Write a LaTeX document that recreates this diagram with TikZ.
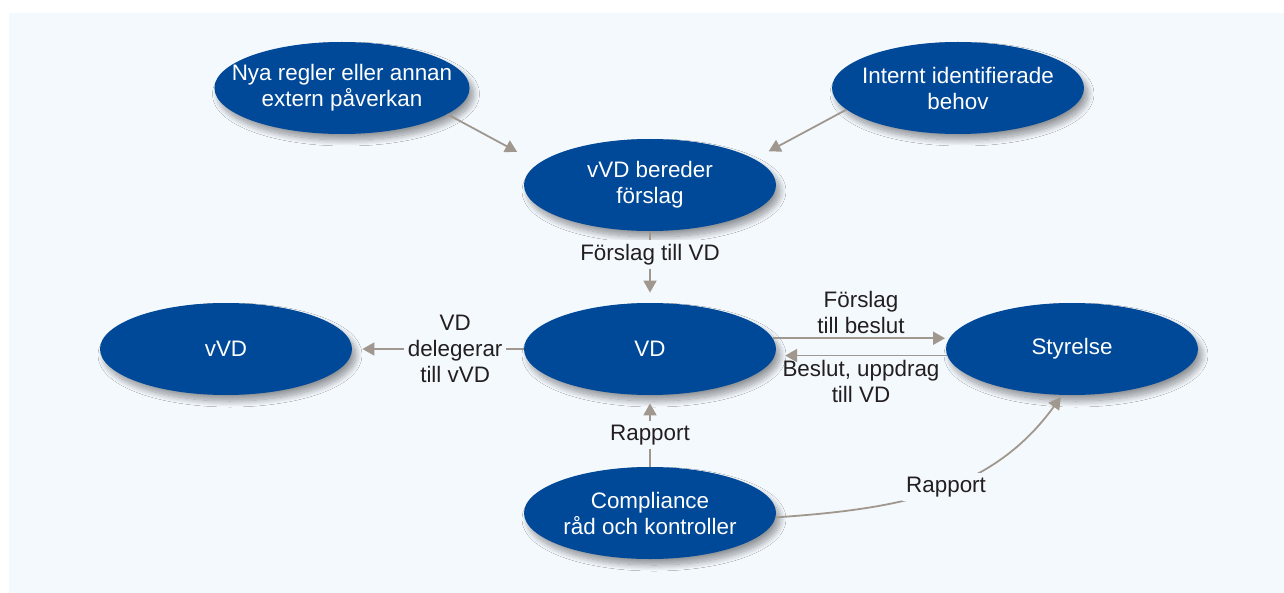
\documentclass[tikz,border=0pt]{standalone}
\usepackage{fontspec}
\setmainfont{Liberation Sans}
\usetikzlibrary{shapes.geometric,shadows.blur,arrows.meta}
\definecolor{bgblue}{RGB}{244,249,254}
\definecolor{blobblue}{RGB}{0,73,152}
\definecolor{arrowgray}{RGB}{160,152,142}
\definecolor{txtgray}{RGB}{35,31,32}
\tikzset{
  blob/.style={ellipse, fill=blobblue, text=white, minimum width=126pt, minimum height=46pt,
    inner xsep=-10pt, inner ysep=0pt, align=center, font=\fontsize{11.2pt}{13pt}\selectfont,
    blur shadow={shadow xshift=2pt, shadow yshift=-3pt, shadow blur radius=3pt,
      shadow blur steps=12, shadow opacity=40}},
  arr/.style={draw=arrowgray, line width=0.9pt, -{Triangle[length=6pt,width=6.5pt]}},
  lbl/.style={text=txtgray, align=center, inner sep=2pt, font=\fontsize{11.2pt}{13pt}\selectfont}
}

\begin{document}
\begin{tikzpicture}[x=0.5pt,y=-0.5pt]
		%%%%% START %%%%%
		\useasboundingbox (0,0) rectangle (1284,593);
		\fill[bgblue] (9,13) rectangle (1284,593);
		
		\node[blob] (nya) at (342,88) {Nya regler eller annan\\extern påverkan};
		\node[blob] (internt) at (958,88) {Internt identifierade\\behov};
		\node[blob] (bereder) at (650,185) {vVD bereder\\förslag};
		\node[blob] (vd) at (650,349) {VD};
		\node[blob] (vvd) at (226,349) {vVD};
		\node[blob] (styrelse) at (1072,349) {Styrelse};
		\node[blob] (compliance) at (650,513) {Compliance\\råd och kontroller};
		
		\draw[arr, shorten >=12pt] (nya.-14) -- (bereder.169);
		\draw[arr, shorten >=8pt] (internt.191) -- (bereder.14);
		\draw[arr, shorten >=5pt] (bereder) -- node[lbl, fill=bgblue, pos=0.33] {Förslag till VD} (vd);
		
		\draw[arr, shorten >=5pt] (vd) -- node[lbl, fill=bgblue, pos=0.4] {VD\\delegerar\\till vVD} (vvd);
		\draw[arr, shorten >=2pt] (vd.5) -- node[lbl, above] {Förslag\\till beslut} (styrelse.175);
		\draw[arr, shorten >=5pt] (styrelse.183) -- node[lbl, below] {Beslut, uppdrag\\till VD} (vd.-3);
		
		\draw[arr, shorten >=4pt] (compliance) -- node[lbl, fill=bgblue, pos=0.44] {Rapport} (vd);
		\draw[arr, shorten >=1pt] (compliance.-2) to[out=4, in=-126] node[lbl, fill=bgblue, pos=0.53] {Rapport} ([xshift=-5pt]styrelse.south);
		%%%%% END %%%%%
\end{tikzpicture}
\end{document}
